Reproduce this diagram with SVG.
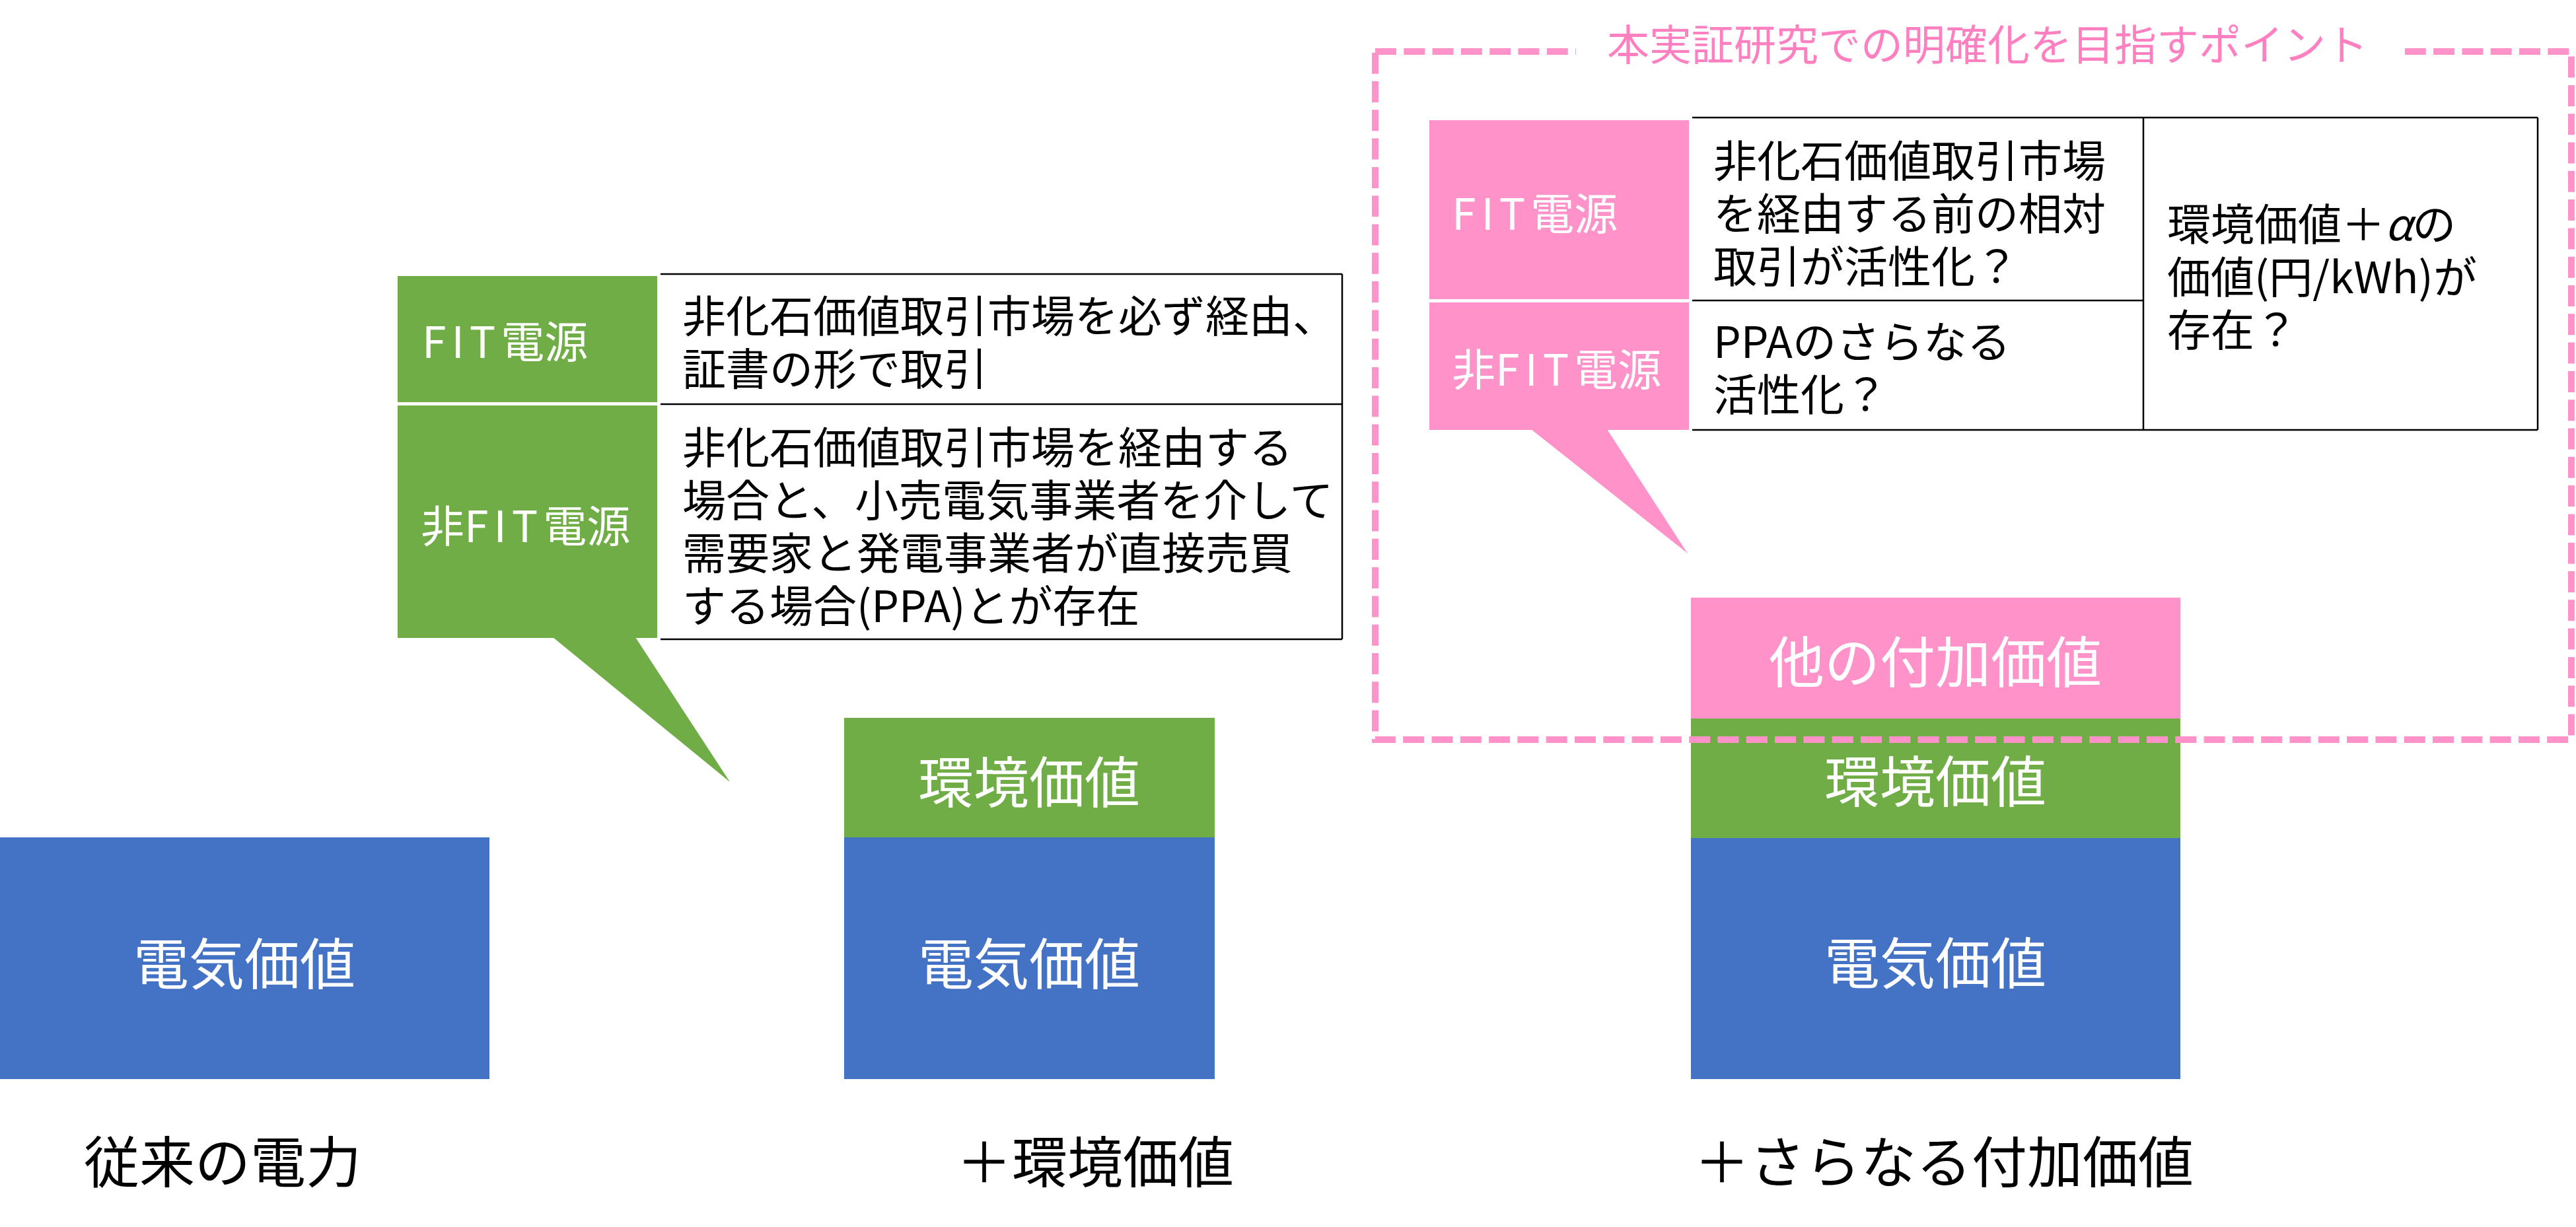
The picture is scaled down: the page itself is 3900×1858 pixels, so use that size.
<svg xmlns="http://www.w3.org/2000/svg" width="3900" height="1858" viewBox="0 0 3900 1858">
<style>
text{font-family:"Noto Sans CJK JP","Noto Sans",sans-serif;}
.blue{fill:#4472C4;}
.green{fill:#70AD47;}
.pink{fill:#FF93C9;}
.wl{fill:#FFFFFF;font-size:84px;text-anchor:middle;}
.lbl{fill:#FFFFFF;font-size:66px;}
.cell{fill:#000000;font-size:66px;}
.cap{fill:#000000;font-size:84px;}
.tb{stroke:#000000;stroke-width:2.5;fill:none;}
.dash{fill:none;stroke:#FF93C9;stroke-width:10;stroke-dasharray:32 11.3;}
</style>
<rect width="3900" height="1858" fill="#FFFFFF"/>

<g id="col1">
  <rect class="blue" x="0" y="1268" width="741" height="366"/>
  <text class="wl" x="370" y="1491">電気価値</text>
  <text class="cap" x="127" y="1791">従来の電力</text>
</g>

<g id="col2">
  <rect class="green" x="1278" y="1087" width="561" height="181"/>
  <rect class="blue" x="1278" y="1268" width="561" height="366"/>
  <text class="wl" x="1558" y="1216">環境価値</text>
  <text class="wl" x="1558" y="1491">電気価値</text>
  <text class="cap" x="1448" y="1791">＋環境価値</text>
</g>

<g id="col3">
  <rect class="pink" x="2560" y="905" width="741" height="183"/>
  <rect class="green" x="2560" y="1088" width="741" height="181"/>
  <rect class="blue" x="2560" y="1269" width="741" height="365"/>
  <text class="wl" x="2930" y="1034">他の付加価値</text>
  <text class="wl" x="2930" y="1215">環境価値</text>
  <text class="wl" x="2930" y="1490">電気価値</text>
  <text class="cap" x="2565" y="1791">＋さらなる付加価値</text>
</g>

<g id="green-callout">
  <rect class="green" x="602" y="418" width="393" height="191"/>
  <rect class="green" x="602" y="614" width="393" height="352"/>
  <polygon class="green" points="837,965 962,965 1105,1184"/>
  <text class="lbl" x="639" y="542"><tspan letter-spacing="8">FIT</tspan>電源</text>
  <text class="lbl" x="637" y="821">非<tspan letter-spacing="8">FIT</tspan>電源</text>
  <line class="tb" x1="1000" y1="415" x2="2032" y2="415"/>
  <line class="tb" x1="1000" y1="612" x2="2032" y2="612"/>
  <line class="tb" x1="1000" y1="968" x2="2032" y2="968"/>
  <line class="tb" x1="2032" y1="415" x2="2032" y2="968"/>
  <text class="cell" x="1033" y="503">非化石価値取引市場を必ず経由、<tspan x="1033" dy="80">証書の形で取引</tspan></text>
  <text class="cell" x="1033" y="702">非化石価値取引市場を経由する<tspan x="1033" dy="80">場合と、小売電気事業者を介して</tspan><tspan x="1033" dy="80">需要家と発電事業者が直接売買</tspan><tspan x="1033" dy="80">する場合(PPA)とが存在</tspan></text>
</g>

<g id="pink-callout">
  <rect class="pink" x="2164" y="182" width="393" height="271"/>
  <rect class="pink" x="2164" y="458" width="393" height="193"/>
  <polygon class="pink" points="2318,650 2433,650 2555,838"/>
  <text class="lbl" x="2198" y="348"><tspan letter-spacing="8">FIT</tspan>電源</text>
  <text class="lbl" x="2198" y="584">非<tspan letter-spacing="8">FIT</tspan>電源</text>
  <line class="tb" x1="2562" y1="178" x2="3842" y2="178"/>
  <line class="tb" x1="2562" y1="455" x2="3245" y2="455"/>
  <line class="tb" x1="2562" y1="651" x2="3842" y2="651"/>
  <line class="tb" x1="3245" y1="178" x2="3245" y2="651"/>
  <line class="tb" x1="3842" y1="178" x2="3842" y2="651"/>
  <text class="cell" x="2594" y="268">非化石価値取引市場<tspan x="2594" dy="80">を経由する前の相対</tspan><tspan x="2594" dy="80">取引が活性化？</tspan></text>
  <text class="cell" x="2594" y="542">PPAのさらなる<tspan x="2594" dy="80">活性化？</tspan></text>
  <text class="cell" x="3281" y="364">環境価値＋<tspan font-style="italic">α</tspan>の<tspan x="3281" dy="80">価値(円/kWh)が</tspan><tspan x="3281" dy="80">存在？</tspan></text>
</g>

<g id="focus-frame">
  <rect class="dash" x="2082" y="78" width="1811" height="1042"/>
  <rect x="2386" y="60" width="1246" height="40" fill="#FFFFFF"/>
  <text x="3009" y="91" font-size="64" fill="#FF80C0" text-anchor="middle">本実証研究での明確化を目指すポイント</text>
</g>

<g id="connectors"/>
</svg>
